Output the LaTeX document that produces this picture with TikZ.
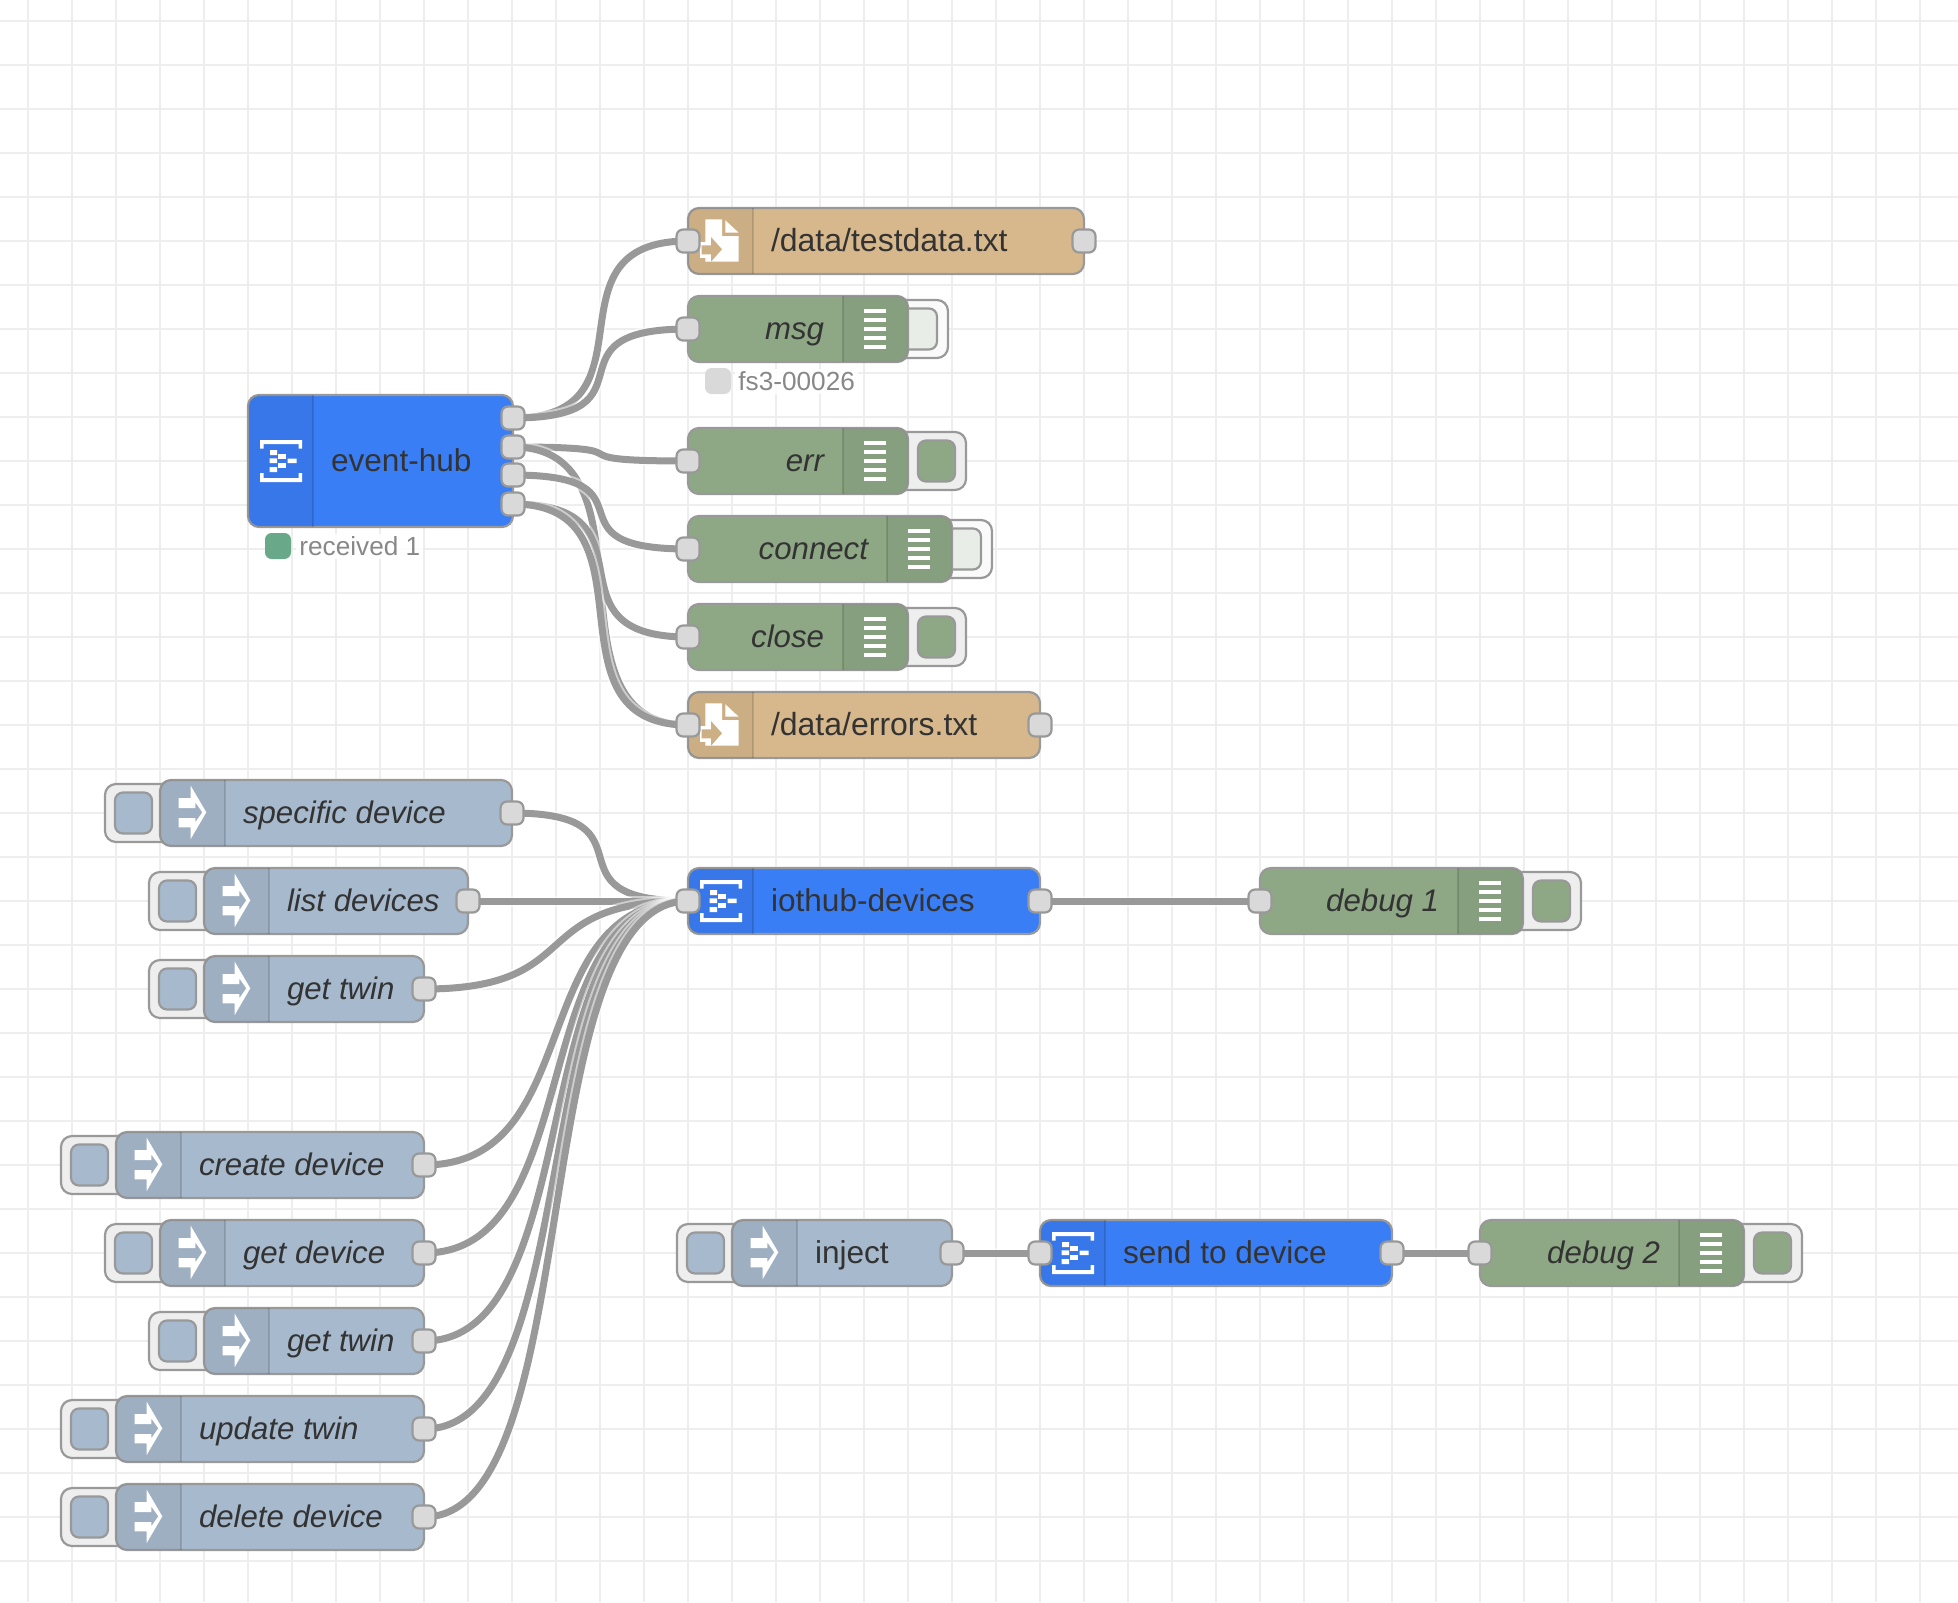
\documentclass[tikz,border=0pt]{standalone}
\usepackage{fontspec}
\setmainfont{Liberation Sans}
\usetikzlibrary{calc}
\pgfdeclarelayer{gridlayer}
\pgfdeclarelayer{wirelayer}
\pgfsetlayers{gridlayer,wirelayer,main}
\definecolor{cblue}{HTML}{3A7EF6}
\definecolor{ctan}{HTML}{D7B88C}
\definecolor{cgreen}{HTML}{8EA885}
\definecolor{cinj}{HTML}{A7B9CD}
\definecolor{cborder}{HTML}{999999}
\definecolor{cport}{HTML}{D9D9D9}
\definecolor{cgrid}{HTML}{EEEEEE}
\definecolor{ctext}{HTML}{333333}
\definecolor{cstat}{HTML}{888888}
\definecolor{cok}{HTML}{6AA88A}
\def\frhh{33}
\newcommand{\frItal}{\fontsize{15.6}{18}\selectfont\itshape}
\tikzset{
  box/.style={draw=cborder,line width=1.1pt,rounded corners=5.5pt,minimum height=\frhh pt,inner sep=0pt,outer sep=0pt},
  portbox/.style={draw=cborder,fill=cport,line width=1.1pt,rounded corners=3.3pt,minimum width=11.5pt,minimum height=11.5pt,inner sep=0pt,outer sep=0pt},
  btnouter/.style={draw=cborder,line width=1.1pt,rounded corners=5.5pt},
  btninner/.style={draw=cborder,line width=1.1pt,rounded corners=4pt},
  divider/.style={draw=black,draw opacity=.13,line width=1pt},
  label/.style={text=ctext,font=\fontsize{15.8}{18}\selectfont,inner sep=0pt,outer sep=0pt},
  statlabel/.style={text=cstat,font=\fontsize{13.1}{15}\selectfont,inner sep=1.5pt,fill=white,fill opacity=.85,text opacity=1,anchor=base west},
  statdot/.style={rounded corners=3.3pt,minimum width=13pt,minimum height=13pt,inner sep=0pt,outer sep=0pt},
  wire/.style={draw=cborder,line width=3.5pt,preaction={draw=white,draw opacity=.5,line width=5.5pt}},
  gridline/.style={draw=cgrid,line width=1pt},
}
% band: nl nr cy bl br
\newcommand{\frBand}[5]{%
  \begin{scope}
    \clip[rounded corners=5.5pt] ($(#1,#3)+(0,-\frhh)$) rectangle ($(#2,#3)+(0,\frhh)$);
    \fill[black,opacity=.05] ($(#4,#3)+(0,-\frhh)$) rectangle ($(#5,#3)+(0,\frhh)$);
  \end{scope}}
\newcommand{\frPort}[3]{\node[portbox] (#1) at (#2,#3) {};}
% name left right cy text font
\newcommand{\frInject}[6]{%
  \pgfmathsetlengthmacro{\frw}{(#3-#2)*0.5}%
  \begin{scope}[shift={(#2,#4)}]
    \filldraw[btnouter,fill=cgrid] (-55,-29) rectangle (20,29);
    \filldraw[btninner,fill=cinj] (-45,-20.5) rectangle (-8,20.5);
  \end{scope}
  \node[box,fill=cinj,minimum width=\frw,anchor=west] (#1) at (#2,#4) {};
  \frBand{#2}{#3}{#4}{#2}{#2+65}
  \begin{scope}[shift={(#2,#4)}]
    \draw[divider] (65,-33) -- (65,33);
    \fill[white] (30.7,-27.3) -- (46.3,-.7) -- (30.7,26) -- (30.7,14.3) -- (18.7,14.3) -- (18.7,5) -- (35.3,5) -- (35.3,9.3) -- (42.3,-.7) -- (35.3,-10.7) -- (35.3,-5) -- (18.7,-5) -- (18.7,-15) -- (30.7,-15) -- cycle;
  \end{scope}
  \node[label,anchor=base west] (#1-t) at ($(#2,#4)+(83,10)$) {#6#5};
  \frPort{#1-out}{#3}{#4}}
% name left right cy text active
\newcommand{\frDebug}[6]{%
  \pgfmathsetlengthmacro{\frw}{(#3-#2)*0.5}%
  \begin{scope}[shift={(#3,#4)}]
    \ifnum#6=1
      \filldraw[btnouter,fill=cgrid] (-20,-29) rectangle (58,29);
      \filldraw[btninner,fill=cgreen] (10,-20.5) rectangle (47,20.5);
    \else
      \filldraw[btnouter,fill=white!98!black] (-20,-29) rectangle (40,29);
      \filldraw[btninner,fill=cgreen!20!white] (-10,-20.5) rectangle (29,20.5);
    \fi
  \end{scope}
  \node[box,fill=cgreen,minimum width=\frw,anchor=west] (#1) at (#2,#4) {};
  \frBand{#2}{#3}{#4}{#3-65}{#3}
  \begin{scope}[shift={(#3,#4)}]
    \draw[divider] (-65,-33) -- (-65,33);
    \foreach \dy in {-18,-9,0,9,18} \fill[white] (-44,\dy-1.6) rectangle (-22,\dy+1.6);
  \end{scope}
  \node[label,anchor=base east] (#1-t) at ($(#3,#4)+(-84,10)$) {\frItal #5};
  \frPort{#1-in}{#2}{#4}}
\newcommand{\hubIcon}{%
  \fill[white] (12,-21) -- (54,-21) -- (54,-12.5) -- (50.5,-12.5) -- (50.5,-17) -- (15.5,-17) -- (15.5,-12.5) -- (12,-12.5) -- cycle;
  \fill[white] (12,21) -- (54,21) -- (54,12) -- (50.5,12) -- (50.5,17) -- (15.5,17) -- (15.5,12) -- (12,12) -- cycle;
  \fill[white] (22.2,-11) rectangle (29.2,-6) (30.2,-7) rectangle (37.8,-2.2) (21.5,-2.6) rectangle (29.2,2.2) (39.5,-2.4) rectangle (48.5,2.2) (30.2,2) rectangle (37.8,6.8) (21.5,6) rectangle (29.2,11);}
\newcommand{\frHub}[5]{%
  \pgfmathsetlengthmacro{\frw}{(#3-#2)*0.5}%
  \node[box,fill=cblue,minimum width=\frw,anchor=west] (#1) at (#2,#4) {};
  \frBand{#2}{#3}{#4}{#2}{#2+65}
  \begin{scope}[shift={(#2,#4)}]
    \draw[divider] (65,-\frhh) -- (65,\frhh);
    \hubIcon
  \end{scope}
  \node[label,anchor=base west] (#1-t) at ($(#2,#4)+(83,10)$) {#5};}
\newcommand{\frFile}[5]{%
  \pgfmathsetlengthmacro{\frw}{(#3-#2)*0.5}%
  \node[box,fill=ctan,minimum width=\frw,anchor=west] (#1) at (#2,#4) {};
  \frBand{#2}{#3}{#4}{#2}{#2+65}
  \begin{scope}[shift={(#2,#4)}]
    \draw[divider] (65,-33) -- (65,33);
    \fill[white] (17.3,-21.7) -- (34,-21.7) -- (34,-5) -- (50.7,-5) -- (50.7,20.7) -- (17.3,20.7) -- cycle;
    \fill[white] (37.3,-20.7) -- (50.7,-8.3) -- (37.3,-8.3) -- cycle;
    \fill[white] (12,1) rectangle (24,16.5);
    \fill[ctan!95!black] (13.7,4.3) -- (23,4.3) -- (23,-4) -- (34,8.3) -- (23,20.7) -- (23,13.3) -- (13.7,13.3) -- cycle;
  \end{scope}
  \node[label,anchor=base west,font=\fontsize{16}{18}\selectfont] (#1-t) at ($(#2,#4)+(83,10)$) {#5};
  \frPort{#1-in}{#2}{#4}
  \frPort{#1-out}{#3}{#4}}
\newcommand{\frWire}[3]{\draw[wire] (#1.center) .. controls +(#3,0) and +(-#3,0) .. (#2.center);}
\begin{document}
\begin{tikzpicture}[x=0.5pt,y=-0.5pt]
\useasboundingbox (0,0) rectangle (1958,1602);
\begin{pgfonlayer}{gridlayer}
  \fill[white] (0,0) rectangle (1958,1602);
  \foreach \k in {0,...,43} \draw[gridline] ({28+44*\k},0) -- ({28+44*\k},1602);
  \foreach \k in {0,...,35} \draw[gridline] (0,{21+44*\k}) -- (1958,{21+44*\k});
\end{pgfonlayer}

% event hub
\begin{scope}
\def\frhh{66}
\frHub{evhub}{248}{513}{461}{event-hub}
\end{scope}
\frPort{evo1}{513}{418}
\frPort{evo2}{513}{447}
\frPort{evo3}{513}{475}
\frPort{evo4}{513}{504}
\node[statdot,fill=cok] (evdot) at (278,546) {};
\node[statlabel] (evstat) at (296,555.7) {received 1};

% right column
\frFile{ftest}{688}{1084}{241}{/data/testdata.txt}
\frDebug{dmsg}{688}{908}{329}{msg}{0}
\node[statdot,fill=cport] (msgdot) at (718,381) {};
\node[statlabel] (msgstat) at (735,390.7) {fs3-00026};
\frDebug{derr}{688}{908}{461}{err}{1}
\frDebug{dcon}{688}{952}{549}{connect}{0}
\frDebug{dclo}{688}{908}{637}{close}{1}
\frFile{ferr}{688}{1040}{725}{/data/errors.txt}

% injects
\frInject{ispec}{160}{512}{813}{specific device}{\frItal}
\frInject{ilist}{204}{468}{901}{list devices}{\frItal}
\frInject{itwin}{204}{424}{989}{get twin}{\frItal}
\frInject{icre}{116}{424}{1165}{create device}{\frItal}
\frInject{iget}{160}{424}{1253}{get device}{\frItal}
\frInject{itwo}{204}{424}{1341}{get twin}{\frItal}
\frInject{iupd}{116}{424}{1429}{update twin}{\frItal}
\frInject{idel}{116}{424}{1517}{delete device}{\frItal}
\frInject{iinj}{732}{952}{1253}{inject}{}

% iothub
\frHub{iot}{688}{1040}{901}{iothub-devices}
\frPort{iot-in}{688}{901}
\frPort{iot-out}{1040}{901}
\frDebug{dbga}{1260}{1523}{901}{debug 1}{1}

% send
\frHub{send}{1040}{1392}{1253}{send to device}
\frPort{send-in}{1040}{1253}
\frPort{send-out}{1392}{1253}
\frDebug{dbgb}{1480}{1744}{1253}{debug 2}{1}

\begin{pgfonlayer}{wirelayer}
  \frWire{evo1}{ftest-in}{150}
  \frWire{evo1}{dmsg-in}{150}
  \frWire{evo2}{derr-in}{150}
  \frWire{evo2}{ferr-in}{150}
  \frWire{evo3}{dcon-in}{150}
  \frWire{evo4}{dclo-in}{150}
  \frWire{evo4}{ferr-in}{150}
  \frWire{ispec-out}{iot-in}{150}
  \frWire{ilist-out}{iot-in}{165}
  \frWire{itwin-out}{iot-in}{165}
  \frWire{icre-out}{iot-in}{165}
  \frWire{iget-out}{iot-in}{165}
  \frWire{itwo-out}{iot-in}{165}
  \frWire{iupd-out}{iot-in}{165}
  \frWire{idel-out}{iot-in}{165}
  \frWire{iot-out}{dbga-in}{165}
  \frWire{iinj-out}{send-in}{66}
  \frWire{send-out}{dbgb-in}{66}
\end{pgfonlayer}
\end{tikzpicture}
\end{document}
